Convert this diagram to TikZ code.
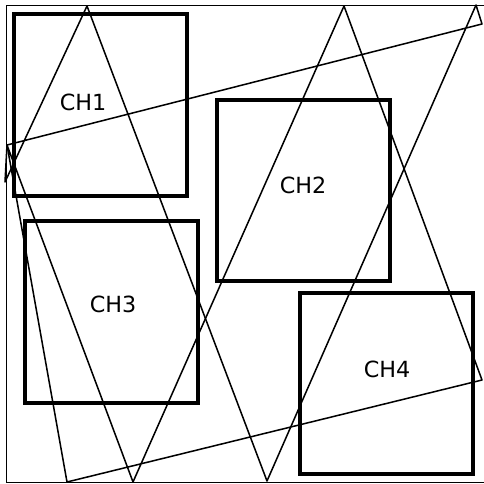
\documentclass[tikz,border=0pt]{standalone}
\usepackage{fontspec}
\setmainfont{DejaVu Sans}
\begin{document}
\begin{tikzpicture}[x=0.03cm,y=-0.03cm,font=\fontsize{19}{22}\selectfont]
\tikzset{chan/.style={draw=black,line width=4.2pt},
  outline/.style={draw=black,line width=1.3pt,line join=round}}
\useasboundingbox (0,0) rectangle (483,484);
\draw[line width=0.8pt] (486,5)--(6,5)--(6,482)--(486,482);

% thin outlines
\draw[outline] (87,6)--(267,481)--(476,5)--(482,24)--(7,145)--(5,182)--cycle;
\draw[outline] (344,6)--(133,482)--(7,145)--(67,482)--(482,380)--cycle;

% channels
\draw[chan] (14,14) rectangle (187,196);
\draw[chan] (217,100) rectangle (390,281);
\draw[chan] (25,221) rectangle (198,403);
\draw[chan] (300,293) rectangle (473,474);
\node (ch1) at (83,102) {CH1};
\node (ch2) at (303,185) {CH2};
\node (ch3) at (113,304) {CH3};
\node (ch4) at (387,369) {CH4};
\end{tikzpicture}
\end{document}
